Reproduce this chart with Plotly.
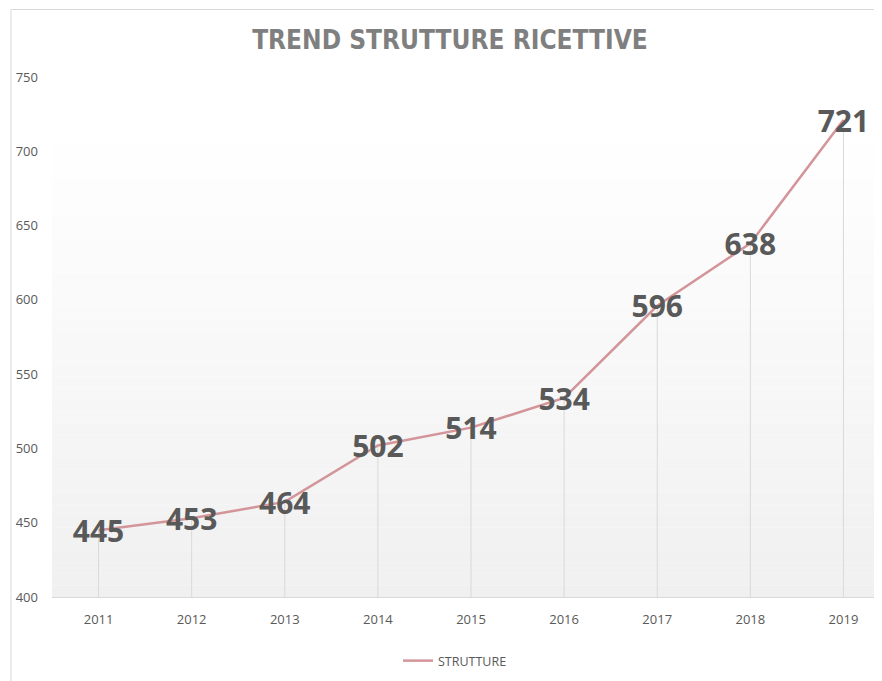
import plotly.graph_objects as go

years = ["2011", "2012", "2013", "2014", "2015", "2016", "2017", "2018", "2019"]
strutture = [445, 453, 464, 502, 514, 534, 596, 638, 721]
y_ticks = [400, 450, 500, 550, 600, 650, 700, 750]

W, H = 882, 681
OFF = 8  # page body margin offset
y_min, y_max = 400, 750
label_shift = 2.8  # data units; moves labels a few px down so digits sit centred on the points


def px(X):
    return (X - OFF) / W


def py(Y):
    return 1 - (Y - OFF) / H


fig = go.Figure()

# drop lines from each point to the axis baseline
drop_x, drop_y = [], []
for xv, yv in zip(years, strutture):
    drop_x += [xv, xv, None]
    drop_y += [y_min, yv, None]
fig.add_trace(go.Scatter(x=drop_x, y=drop_y, mode="lines",
                         line=dict(color="#d9d9d9", width=1),
                         hoverinfo="skip", showlegend=False))

fig.add_trace(go.Scatter(x=years, y=strutture, mode="lines", name="STRUTTURE",
                         line=dict(color="#d3959a", width=2.5)))

# data labels on an overlaid axis (same scale, tiny offset)
fig.add_trace(go.Scatter(x=years, y=strutture, mode="text", yaxis="y2",
                         text=[str(v) for v in strutture],
                         textposition="middle center",
                         textfont=dict(family="Open Sans", size=30, color="#595959", weight="bold"),
                         hoverinfo="skip", showlegend=False))

# gradient background (white at top to light grey at bottom)
shapes = []
n = 40
g_top = 712
for i in range(n):
    y0 = y_min + (g_top - y_min) * i / n
    y1 = y_min + (g_top - y_min) * (i + 1) / n
    t = (i + 0.5) / n
    c = int(round(240 + (255 - 240) * t))
    shapes.append(dict(type="rect", xref="x domain", yref="y", x0=0, x1=1, y0=y0, y1=y1,
                       fillcolor=f"rgb({c},{c},{c})", line=dict(width=0), layer="below"))
# frame
shapes.append(dict(type="rect", xref="paper", yref="paper",
                   x0=px(11), x1=1.2, y0=-0.2, y1=py(9.5),
                   line=dict(color="#d9d9d9", width=1), fillcolor="rgba(0,0,0,0)", layer="below"))

fig.update_layout(
    width=W, height=H,
    margin=dict(l=0, r=0, t=0, b=0, autoexpand=False),
    paper_bgcolor="white", plot_bgcolor="white",
    shapes=shapes,
    title=dict(text="TREND STRUTTURE RICETTIVE", x=px(450), xanchor="center",
               y=py(40), yanchor="middle", yref="paper", xref="paper",
               font=dict(family="DejaVu Sans Condensed", size=26,
                         color="#7f7f7f", weight="bold")),
    xaxis=dict(domain=[px(52), 1], type="category", range=[-0.5, 8.5],
               showgrid=False, zeroline=False, showline=True, linecolor="#d9d9d9", linewidth=1,
               ticks="", ticklabelstandoff=10, automargin=False,
               tickfont=dict(family="Open Sans", size=13, color="#595959")),
    yaxis=dict(domain=[py(597), py(77)], range=[y_min, y_max],
               tickvals=y_ticks, showgrid=False, zeroline=False, showline=False,
               ticks="", ticklabelstandoff=13, automargin=False,
               tickfont=dict(family="Open Sans", size=13, color="#595959")),
    yaxis2=dict(overlaying="y", range=[y_min + label_shift, y_max + label_shift],
                showticklabels=False, showgrid=False, zeroline=False, showline=False,
                automargin=False),
    legend=dict(orientation="h", x=px(455), xanchor="center", y=py(661), yanchor="middle",
                font=dict(family="Open Sans", size=12.5, color="#595959"),
                bgcolor="rgba(0,0,0,0)"),
    showlegend=True,
)

fig.write_html("out.html")
